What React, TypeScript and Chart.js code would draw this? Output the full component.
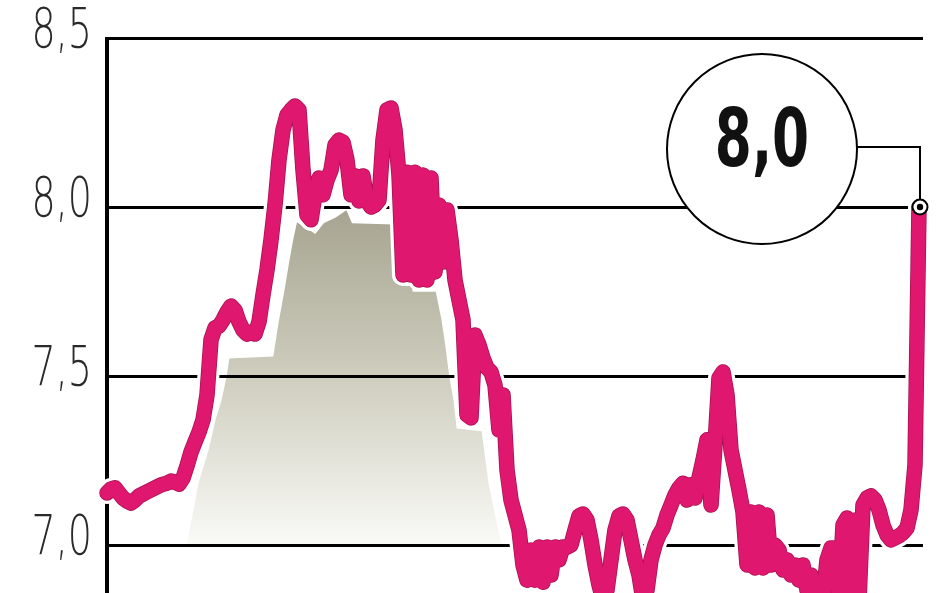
import React, { useEffect, useRef } from "react";
import { Chart, registerables } from "chart.js";

Chart.register(...registerables);

// Y axis ticks
const tickValues = [7.0, 7.5, 8.0, 8.5];
const tickLabels = ["7,0", "7,5", "8,0", "8,5"];

// Main series (pink line), one value per step along the time axis
const rateValues = [
  7.154, 7.166, 7.169, 7.154, 7.139, 7.13, 7.124, 7.133, 7.145, 7.151,
  7.157, 7.163, 7.169, 7.175, 7.18, 7.183, 7.189, 7.186, 7.18, 7.198,
  7.234, 7.275, 7.305, 7.334, 7.37, 7.444, 7.607, 7.642, 7.648, 7.666,
  7.689, 7.707, 7.695, 7.66, 7.636, 7.624, 7.63, 7.624, 7.66, 7.74,
  7.814, 7.902, 8.006, 8.139, 8.228, 8.272, 8.287, 8.299, 8.287, 8.109,
  7.976, 7.962, 8.036, 8.086, 8.036, 8.08, 8.109, 8.183, 8.198, 8.192,
  8.139, 8.036, 8.092, 8.018, 8.092, 8.018, 8.0, 8.006, 8.021, 8.198,
  8.287, 8.293, 8.228, 8.095, 7.799, 8.103, 7.799, 8.103, 7.784, 8.095,
  7.784, 8.086, 7.808, 8.006, 7.837, 7.991, 7.902, 7.784, 7.725, 7.666,
  7.385, 7.376, 7.621, 7.592, 7.553, 7.524, 7.512, 7.473, 7.34, 7.444,
  7.222, 7.133, 7.089, 7.044, 6.941, 6.896, 6.985, 6.896, 6.994, 6.89,
  6.994, 6.911, 6.994, 6.956, 6.994, 6.994, 7.0, 7.044, 7.086, 7.092,
  7.074, 7.015, 6.941, 6.882, 6.837, 6.867, 6.956, 7.044, 7.086, 7.092,
  7.074, 7.015, 6.956, 6.911, 6.837, 6.867, 6.956, 7.0, 7.03, 7.05,
  7.089, 7.118, 7.148, 7.169, 7.183, 7.133, 7.178, 7.139, 7.198, 7.251,
  7.311, 7.118, 7.296, 7.494, 7.512, 7.444, 7.281, 7.222, 7.163, 7.098,
  6.941, 7.098, 6.932, 7.098, 6.932, 7.089, 6.941, 7.0, 6.985, 6.926,
  6.956, 6.911, 6.941, 6.896, 6.941, 6.867, 6.911, 6.837, 6.822, 6.837,
  6.956, 6.991, 6.991, 6.837, 7.059, 7.08, 6.837, 7.074, 6.837, 7.118,
  7.139, 7.145, 7.133, 7.104, 7.059, 7.03, 7.015, 7.021, 7.027, 7.036,
  7.05, 7.104, 7.237, 8.0,
];

// Grey shaded reference area (position along time axis, value)
const areaIndex = [
  19.5, 21.25, 22.5, 25, 26.75, 28.25, 29.5, 30.25, 41.25, 42.5,
  44, 45.25, 46.25, 47.25, 49.75, 52, 54, 57, 60, 61.5,
  72, 72.75, 75.75, 76.75, 82.5, 84, 85, 86, 87, 87.75,
  94, 95.75, 97.5, 98.75, 99.5,
];
const areaValues = [
  7.0, 7.104, 7.183, 7.281, 7.37, 7.429, 7.497, 7.556, 7.562, 7.657,
  7.754, 7.843, 7.908, 7.962, 7.944, 7.926, 7.956, 7.973, 7.997, 7.956,
  7.953, 7.837, 7.831, 7.754, 7.754, 7.666, 7.586, 7.494, 7.429, 7.349,
  7.34, 7.183, 7.083, 7.015, 7.0,
];
const areaBase = 7.0;

const calloutLabel = "8,0";

const Y_MIN = 6.858;
const Y_MAX = 8.5;
const X_MAX = 204;

const PINK = "#e0176f";
const PINK_EDGE = "#a8104f";
const AREA_INDEX = 3;

const TICK_SCALE_X = 0.68;
const CALLOUT_SCALE_X = 0.74;

const gridUnderPlugin = {
  id: "gridUnder",
  afterDatasetDraw(chart: any, args: any) {
    if (args.index !== AREA_INDEX) return;
    const { ctx, chartArea, scales } = chart;
    const y = scales.y;
    ctx.save();
    ctx.strokeStyle = "#000";
    ctx.lineWidth = 3;
    for (const v of tickValues) {
      const py = Math.round(y.getPixelForValue(v)) + 0.5;
      ctx.beginPath();
      ctx.moveTo(chartArea.left, py);
      ctx.lineTo(chartArea.right, py);
      ctx.stroke();
    }
    ctx.lineWidth = 4;
    ctx.beginPath();
    ctx.moveTo(chartArea.left, y.getPixelForValue(Y_MAX) - 1);
    ctx.lineTo(chartArea.left, chartArea.bottom + 2);
    ctx.stroke();
    ctx.restore();
  },
};

const calloutPlugin = {
  id: "callout",
  afterDatasetsDraw(chart: any) {
    const meta = chart.getDatasetMeta(0);
    const last = meta.data[meta.data.length - 1];
    if (!last) return;
    const px = last.x + 1;
    const py = last.y;
    const { ctx } = chart;
    const r = 95;
    const cx = px - 158;
    const cy = py - 58;
    ctx.save();
    ctx.strokeStyle = "#000";
    ctx.lineWidth = 2;
    // connector
    ctx.beginPath();
    ctx.moveTo(cx + r - 2, cy - 2);
    ctx.lineTo(px, cy - 2);
    ctx.lineTo(px, py);
    ctx.stroke();
    // bubble
    ctx.beginPath();
    ctx.arc(cx, cy, r, 0, Math.PI * 2);
    ctx.fillStyle = "#fff";
    ctx.fill();
    ctx.stroke();
    // value text (condensed)
    ctx.save();
    ctx.translate(cx, cy - 4);
    ctx.scale(CALLOUT_SCALE_X, 1);
    ctx.fillStyle = "#111";
    ctx.font = "bold 80px 'DejaVu Sans Condensed', 'DejaVu Sans', sans-serif";
    ctx.textAlign = "center";
    ctx.textBaseline = "middle";
    ctx.fillText(calloutLabel, 0, 0);
    ctx.restore();
    // end marker
    ctx.beginPath();
    ctx.arc(px, py, 7.5, 0, Math.PI * 2);
    ctx.fillStyle = "#fff";
    ctx.fill();
    ctx.lineWidth = 2;
    ctx.stroke();
    ctx.beginPath();
    ctx.arc(px, py, 3.2, 0, Math.PI * 2);
    ctx.fillStyle = "#000";
    ctx.fill();
    ctx.restore();
  },
};

export default function App() {
  const canvasRef = useRef<HTMLCanvasElement | null>(null);

  useEffect(() => {
    const canvas = canvasRef.current;
    if (!canvas) return;
    const pts = rateValues.map((v, i) => ({ x: i, y: v }));
    const areaPts = areaIndex.map((x, i) => ({ x, y: areaValues[i] }));
    const lineCommon = {
      pointRadius: 0,
      pointHoverRadius: 0,
      tension: 0,
      fill: false,
      clip: false as any,
      borderJoinStyle: "round" as const,
      borderCapStyle: "round" as const,
    };
    const chart = new Chart(canvas, {
      type: "line",
      data: {
        datasets: [
          { label: "rate", data: pts, borderColor: PINK, borderWidth: 14, order: 0, ...lineCommon },
          { label: "edge", data: pts, borderColor: PINK_EDGE, borderWidth: 15.5, order: 1, ...lineCommon },
          { label: "halo", data: pts, borderColor: "#ffffff", borderWidth: 22, order: 2, ...lineCommon },
          {
            label: "area",
            data: areaPts,
            order: 3,
            borderColor: "#ffffff",
            borderWidth: 3,
            pointRadius: 0,
            tension: 0,
            fill: { value: areaBase },
            backgroundColor: (c: any) => {
              const { chart: ch } = c;
              const { ctx, chartArea, scales } = ch;
              if (!chartArea) return "rgba(0,0,0,0)";
              const y = scales.y;
              const g = ctx.createLinearGradient(0, y.getPixelForValue(8.0), 0, y.getPixelForValue(areaBase));
              g.addColorStop(0, "#a6a490");
              g.addColorStop(0.5, "#cecdbe");
              g.addColorStop(1, "#fafaf7");
              return g;
            },
          },
        ],
      },
      options: {
        responsive: false,
        devicePixelRatio: 1,
        animation: false,
        events: [],
        layout: { padding: { top: 38, right: 25, bottom: 0, left: 0 } },
        plugins: { legend: { display: false }, tooltip: { enabled: false } },
        scales: {
          x: { type: "linear", min: 0, max: X_MAX, display: false },
          y: {
            type: "linear",
            position: "left",
            min: Y_MIN,
            max: Y_MAX,
            grid: { display: false, drawTicks: false },
            border: { display: false },
            ticks: {
              padding: 15,
              labelOffset: -6,
              color: "#2a2a2a",
              font: { family: "'DejaVu Sans', sans-serif", size: 56, weight: "200" },
              callback: (v: any) => {
                const k = tickValues.indexOf(Number(v));
                return k >= 0 ? tickLabels[k] : "";
              },
            },
            afterBuildTicks: (s: any) => {
              s.ticks = tickValues.map((value) => ({ value }));
            },
            afterFit: (s: any) => {
              s.width = 107;
              s.paddingTop = 0;
              s.paddingBottom = 0;
              if (!s.__condensed) {
                s.__condensed = true;
                const orig = s.drawLabels.bind(s);
                s.drawLabels = (area: any) => {
                  const c = s.ctx;
                  const anchor = s.right - s.options.ticks.padding;
                  c.save();
                  c.translate(anchor, 0);
                  c.scale(TICK_SCALE_X, 1);
                  c.translate(-anchor, 0);
                  orig(area);
                  c.restore();
                };
              }
            },
          },
        },
      },
      plugins: [gridUnderPlugin, calloutPlugin],
    });
    return () => chart.destroy();
  }, []);

  return (
    <div style={{ position: "fixed", left: 0, top: 0, width: 948, height: 593, background: "#ffffff" }}>
      <canvas ref={canvasRef} width={948} height={593} style={{ display: "block" }} />
    </div>
  );
}
